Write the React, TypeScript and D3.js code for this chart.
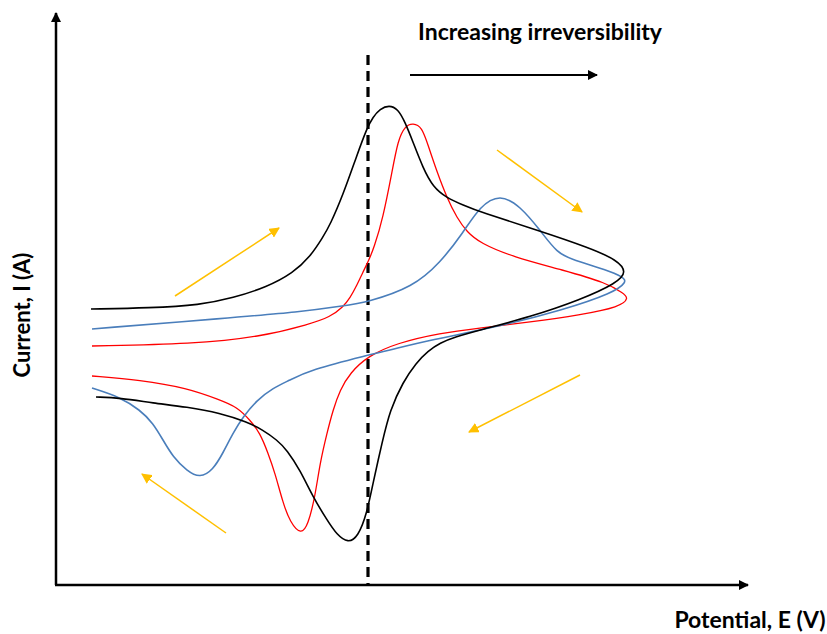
import React from "react";
import * as d3 from "d3";

// Potential E (mV, relative to E0 dashed line), current I (arbitrary units)
const blackForwardE = [-277, -218, -168, -135, -101, -75, -58, -45, -38, -25, -11, -1, 5, 12, 21, 30, 37, 45, 55, 65, 79, 95, 112, 169, 222, 249, 259];
const blackForwardI = [21, 22, 25, 32, 43, 57, 73, 93, 105, 135, 175, 202, 213, 221, 225, 221, 208, 188, 162, 143, 132, 125, 118, 100, 82, 70, 58];
const blackReturnE = [249, 212, 162, 112, 87, 72, 60, 48, 35, 22, 14, 5, -1, -10, -20, -31, -41, -55, -68, -81, -91, -105, -121, -148, -181, -215, -248, -272];
const blackReturnI = [47, 30, 13, 0, -7, -13, -21, -33, -52, -80, -113, -153, -183, -207, -213, -205, -190, -167, -140, -120, -110, -100, -92, -83, -77, -73, -68, -67];

const redForwardE = [-276, -175, -108, -58, -38, -25, -18, -11, -5, 0, 6, 15, 24, 30, 37, 45, 54, 60, 69, 79, 89, 99, 112, 145, 195, 239, 255, 261];
const redForwardI = [-16, -14, -7, 6, 13, 23, 32, 45, 58, 68, 82, 112, 158, 190, 204, 207, 203, 185, 158, 132, 112, 98, 87, 73, 60, 47, 37, 32];
const redReturnE = [252, 212, 162, 112, 72, 29, 0, -18, -28, -35, -41, -48, -53, -60, -67, -78, -85, -93, -100, -108, -118, -131, -148, -181, -228, -276];
const redReturnI = [23, 15, 8, 2, -3, -13, -26, -43, -60, -80, -103, -133, -167, -195, -205, -192, -173, -143, -123, -103, -90, -77, -70, -58, -50, -46];

const blueForwardE = [-276, -141, -68, -25, 0, 45, 72, 95, 112, 132, 152, 172, 189, 205, 239, 255, 259];
const blueForwardI = [1, 12, 18, 24, 28, 43, 67, 97, 124, 136, 124, 100, 77, 70, 60, 53, 48];
const blueReturnE = [245, 195, 129, 62, 22, 0, -58, -80, -95, -111, -125, -135, -145, -155, -168, -181, -195, -205, -215, -228, -248, -276];
const blueReturnI = [37, 20, 3, -10, -20, -25, -40, -51, -58, -70, -87, -103, -123, -140, -148, -141, -127, -110, -93, -80, -67, -58];

// scan-direction arrows: [E1, I1, E2, I2]
const scanArrows = [
  [-193, 34, -89, 102],
  [129, 180, 214, 118],
  [212, -45, 101, -102],
  [-142, -203, -226, -144],
];
const irrevArrow = [42, 255, 229, 255];

const E_DOMAIN = [-312, 380];
const I_DOMAIN = [-255, 317];

const W = 827;
const H = 634;

function zip(es: number[], is: number[]) {
  return es.map((e, k) => [e, is[k]] as [number, number]);
}

export default function App() {
  const x = d3.scaleLinear().domain(E_DOMAIN).range([56, 748]);
  const y = d3.scaleLinear().domain(I_DOMAIN).range([585, 13]);

  const line = d3
    .line<[number, number]>()
    .x((d) => x(d[0]))
    .y((d) => y(d[1]))
    .curve(d3.curveBasis);

  const curves = [
    { color: "#FF0000", w: 1.3, pts: [...zip(redForwardE, redForwardI), ...zip(redReturnE, redReturnI)] },
    { color: "#4A7EBB", w: 1.6, pts: [...zip(blueForwardE, blueForwardI), ...zip(blueReturnE, blueReturnI)] },
    { color: "#000000", w: 1.6, pts: [...zip(blackForwardE, blackForwardI), ...zip(blackReturnE, blackReturnI)] },
  ];

  const font = "Lato, 'Open Sans', sans-serif";

  return (
    <svg width={W} height={H} style={{ position: "absolute", left: 0, top: 0 }}>
      <defs>
        <marker id="axHead" viewBox="0 0 10 10" refX="9" refY="5" markerWidth="4" markerHeight="4" orient="auto" markerUnits="strokeWidth">
          <path d="M0,0 L10,5 L0,10 z" fill="#000" />
        </marker>
        <marker id="blkHead" viewBox="0 0 10 10" refX="9" refY="5" markerWidth="5" markerHeight="5" orient="auto" markerUnits="strokeWidth">
          <path d="M0,0 L10,5 L0,10 z" fill="#000" />
        </marker>
        <marker id="orHead" viewBox="0 0 10 10" refX="9" refY="5" markerWidth="7" markerHeight="7" orient="auto" markerUnits="strokeWidth">
          <path d="M0,0 L10,5 L0,10 z" fill="#FFC000" />
        </marker>
      </defs>
      <rect width={W} height={H} fill="#fff" />

      {/* axes */}
      <line x1={x(E_DOMAIN[0])} y1={y(I_DOMAIN[0])} x2={x(E_DOMAIN[0])} y2={y(I_DOMAIN[1])} stroke="#000" strokeWidth={2.5} markerEnd="url(#axHead)" />
      <line x1={x(E_DOMAIN[0]) - 1} y1={y(I_DOMAIN[0])} x2={x(E_DOMAIN[1])} y2={y(I_DOMAIN[0])} stroke="#000" strokeWidth={2.5} markerEnd="url(#axHead)" />

      {/* E0 dashed line */}
      <line x1={x(0)} y1={y(275)} x2={x(0)} y2={y(I_DOMAIN[0])} stroke="#000" strokeWidth={3.2} strokeDasharray="10,6" />

      {curves.map((c, k) => (
        <path key={k} d={line(c.pts) ?? ""} fill="none" stroke={c.color} strokeWidth={c.w} />
      ))}

      {scanArrows.map((a, k) => (
        <line key={k} x1={x(a[0])} y1={y(a[1])} x2={x(a[2])} y2={y(a[3])} stroke="#FFC000" strokeWidth={1.5} markerEnd="url(#orHead)" />
      ))}

      <line x1={x(irrevArrow[0])} y1={y(irrevArrow[1])} x2={x(irrevArrow[2])} y2={y(irrevArrow[3])} stroke="#000" strokeWidth={2} markerEnd="url(#blkHead)" />
      <text x={540} y={40} textAnchor="middle" fontFamily={font} fontWeight="bold" fontSize={23} fill="#000">
        Increasing irreversibility
      </text>

      <text x={750} y={628} textAnchor="middle" fontFamily={font} fontWeight="bold" fontSize={23} fill="#000">
        Potential, E (V)
      </text>
      <text transform="translate(30,315) rotate(-90)" textAnchor="middle" fontFamily={font} fontWeight="bold" fontSize={22} fill="#000">
        Current, I (A)
      </text>
    </svg>
  );
}
